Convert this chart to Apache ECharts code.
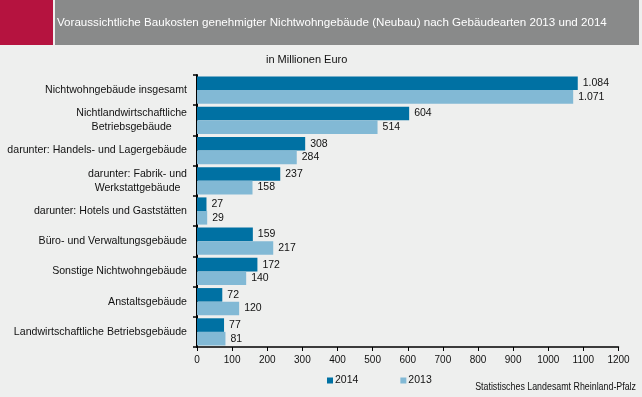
<!DOCTYPE html>
<html><head><meta charset="utf-8">
<script src="https://cdn.jsdelivr.net/npm/echarts@6/dist/echarts.min.js"></script>
<style>html,body{margin:0;padding:0;background:#eeefee;}#c{width:642px;height:397px;}</style>
</head><body><div id="c"></div>
<script>
const categories = [
  "Nichtwohngebäude insgesamt",
  "Nichtlandwirtschaftliche\nBetriebsgebäude",
  "darunter: Handels- und Lagergebäude",
  "darunter: Fabrik- und\nWerkstattgebäude",
  "darunter: Hotels und Gaststätten",
  "Büro- und Verwaltungsgebäude",
  "Sonstige Nichtwohngebäude",
  "Anstaltsgebäude",
  "Landwirtschaftliche Betriebsgebäude"
];
const values2014 = [1084, 604, 308, 237, 27, 159, 172, 72, 77];
const values2013 = [1071, 514, 284, 158, 29, 217, 140, 120, 81];
const seriesNames = ["2014", "2013"];
const titleText = "Voraussichtliche Baukosten genehmigter Nichtwohngebäude (Neubau) nach Gebäudearten 2013 und 2014";
const unitText = "in Millionen Euro";
const sourceText = "Statistisches Landesamt Rheinland-Pfalz";

const FONT = "Liberation Sans, Arial, sans-serif";
const fmt = v => v >= 1000 ? Math.floor(v/1000) + "." + String(v%1000).padStart(3,"0") : String(v);

const chart = echarts.init(document.getElementById('c'));
chart.setOption({
  backgroundColor: '#eeefee',
  animation: false,
  textStyle: { fontFamily: FONT },
  graphic: [
    { type: 'rect', shape: { x: 0, y: 0, width: 53, height: 45 }, style: { fill: '#b5133f' } },
    { type: 'rect', shape: { x: 55, y: 0, width: 584, height: 45 }, style: { fill: '#898a8a' } },
    { type: 'text', x: 57, y: 23, style: { text: titleText, fill: '#ffffff', font: '11.6px ' + FONT, verticalAlign: 'middle' } },
    { type: 'text', x: 266, y: 60, style: { text: unitText, fill: '#111', font: '11px ' + FONT, verticalAlign: 'middle' } },
    { type: 'text', x: 636, y: 387, scaleX: 0.885, style: { text: sourceText, fill: '#111', font: '10px ' + FONT, align: 'right', verticalAlign: 'middle' } }
  ],
  legend: {
    data: seriesNames,
    left: 322, top: 370,
    icon: 'rect', itemWidth: 6, itemHeight: 6, itemGap: 42,
    textStyle: { fontSize: 10.5, color: '#111', fontFamily: FONT, padding: [0,0,0,-3] }
  },
  grid: { left: 197, right: 23.5, top: 75, bottom: 50, containLabel: false, outerBoundsMode: 'none' },
  xAxis: {
    type: 'value', min: 0, max: 1200, interval: 100,
    axisLine: { show: true, lineStyle: { color: '#000', width: 1.5 } },
    axisTick: { show: true, length: 4, lineStyle: { color: '#000' } },
    axisLabel: { color: '#111', fontSize: 10, margin: 8, fontFamily: FONT, formatter: v => String(v) },
    splitLine: { show: false }
  },
  yAxis: {
    type: 'category', data: categories, inverse: true,
    axisLine: { show: true, lineStyle: { color: '#000', width: 2 } },
    axisTick: { show: true, length: 4, inside: false, lineStyle: { color: '#000', width: 1.5 } },
    axisLabel: {
      margin: 10, color: '#111', fontSize: 10.6, fontFamily: FONT, lineHeight: 14,
      formatter: v => v.split('\n').map(s => '{c|' + s + '}').join('\n'),
      rich: { c: { align: 'center', fontSize: 10.6, color: '#111', fontFamily: FONT, lineHeight: 14 } }
    }
  },
  series: [
    { name: seriesNames[0], type: 'bar', data: values2014, barGap: '0%', barCategoryGap: '10%',
      itemStyle: { color: '#0071a3' },
      label: { show: true, position: 'right', distance: 5, color: '#111', fontSize: 10.5, fontFamily: FONT, formatter: p => fmt(p.value) } },
    { name: seriesNames[1], type: 'bar', data: values2013, barGap: '0%', barCategoryGap: '10%',
      itemStyle: { color: '#82b9d5' },
      label: { show: true, position: 'right', distance: 5, color: '#111', fontSize: 10.5, fontFamily: FONT, formatter: p => fmt(p.value) } }
  ]
});
</script></body></html>
